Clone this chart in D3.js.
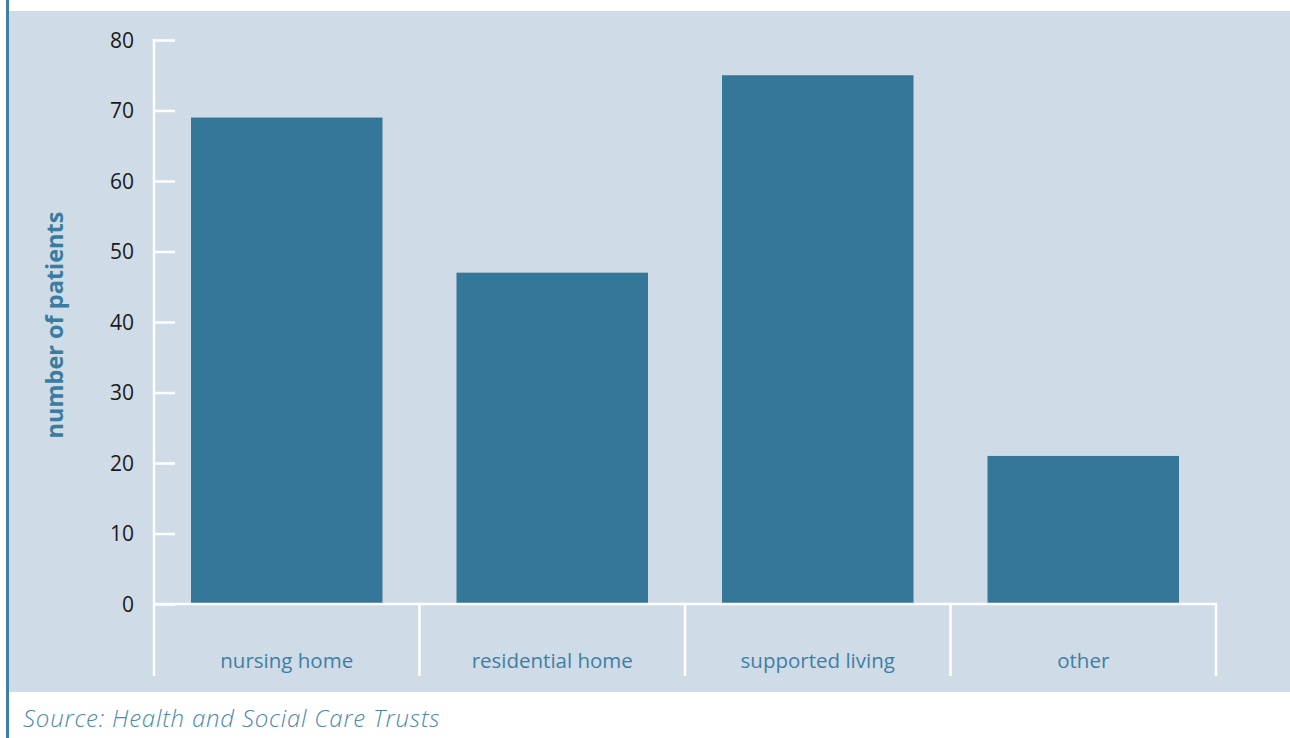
<!DOCTYPE html>
<html><head><meta charset="utf-8">
<script src="https://cdn.jsdelivr.net/npm/d3@7/dist/d3.min.js"></script>
<style>html,body{margin:0;padding:0;background:#fff;}svg{display:block;}</style>
</head><body>
<script>
const categories = ["nursing home", "residential home", "supported living", "other"];
const values = [69, 47, 75, 21];
const yTicks = [0, 10, 20, 30, 40, 50, 60, 70, 80];
const yTitle = "number of patients";
const source = "Source: Health and Social Care Trusts";

const W = 1290, H = 738;
const svg = d3.select("body").append("svg").attr("width", W).attr("height", H);
const FONT = "'Open Sans', Lato, sans-serif";

svg.append("rect").attr("x", 8).attr("y", 11).attr("width", W - 8).attr("height", 681).attr("fill", "#cfdbe6");
svg.append("rect").attr("x", 6).attr("y", 0).attr("width", 3).attr("height", H).attr("fill", "#3d7fa5");

const x = d3.scaleBand().domain(categories).range([154, 1216]).paddingInner(0).paddingOuter(0);
const y = d3.scaleLinear().domain([0, 80]).range([604, 40]);
const barPad = 37;

svg.selectAll("rect.bar").data(categories).enter().append("rect")
  .attr("class", "bar")
  .attr("x", d => x(d) + barPad)
  .attr("width", x.bandwidth() - 2 * barPad)
  .attr("y", (d, i) => y(values[i]))
  .attr("height", (d, i) => y(0) - y(values[i]))
  .attr("fill", "#347799");

// y axis
const yAxis = d3.axisRight(y).tickValues(yTicks).tickSize(21).tickFormat("");
const gy = svg.append("g").attr("transform", "translate(154,0)").call(yAxis);
gy.select(".domain").remove();
gy.selectAll(".tick line").attr("stroke", "#fff").attr("stroke-width", 2.5);
svg.append("line").attr("x1", 154).attr("x2", 154).attr("y1", y(80) - 1).attr("y2", 604)
  .attr("stroke", "#fff").attr("stroke-width", 2.5);

svg.selectAll("text.ytick").data(yTicks).enter().append("text")
  .attr("class", "ytick")
  .attr("x", 134).attr("y", d => y(d)).attr("dy", "0.36em")
  .attr("text-anchor", "end")
  .attr("font-family", FONT).attr("font-size", 21)
  .attr("fill", "#1a1a1a").text(d => d);

// x axis
svg.append("line").attr("x1", 154).attr("x2", 1217).attr("y1", 604).attr("y2", 604)
  .attr("stroke", "#fff").attr("stroke-width", 2.5);
const dividers = categories.map(c => x(c)).concat([x.range()[1]]);
svg.selectAll("line.div").data(dividers).enter().append("line")
  .attr("class", "div")
  .attr("x1", d => d).attr("x2", d => d).attr("y1", 604).attr("y2", 676)
  .attr("stroke", "#fff").attr("stroke-width", 2.5);

svg.selectAll("text.xcat").data(categories).enter().append("text")
  .attr("class", "xcat")
  .attr("x", d => x(d) + x.bandwidth() / 2).attr("y", 668)
  .attr("text-anchor", "middle")
  .attr("font-family", FONT).attr("font-size", 20.5)
  .attr("fill", "#3d7fa5").text(d => d);

svg.append("text")
  .attr("transform", "translate(63,325) rotate(-90)")
  .attr("text-anchor", "middle")
  .attr("font-family", FONT).attr("font-weight", 700).attr("font-size", 23.5)
  .attr("fill", "#3a7ca0").text(yTitle);

svg.append("text")
  .attr("x", 23).attr("y", 727)
  .attr("font-family", FONT).attr("font-style", "italic").attr("font-weight", 300)
  .attr("font-size", 24).attr("letter-spacing", 0.8).attr("fill", "#4f89ab").text(source);
</script>
</body></html>
